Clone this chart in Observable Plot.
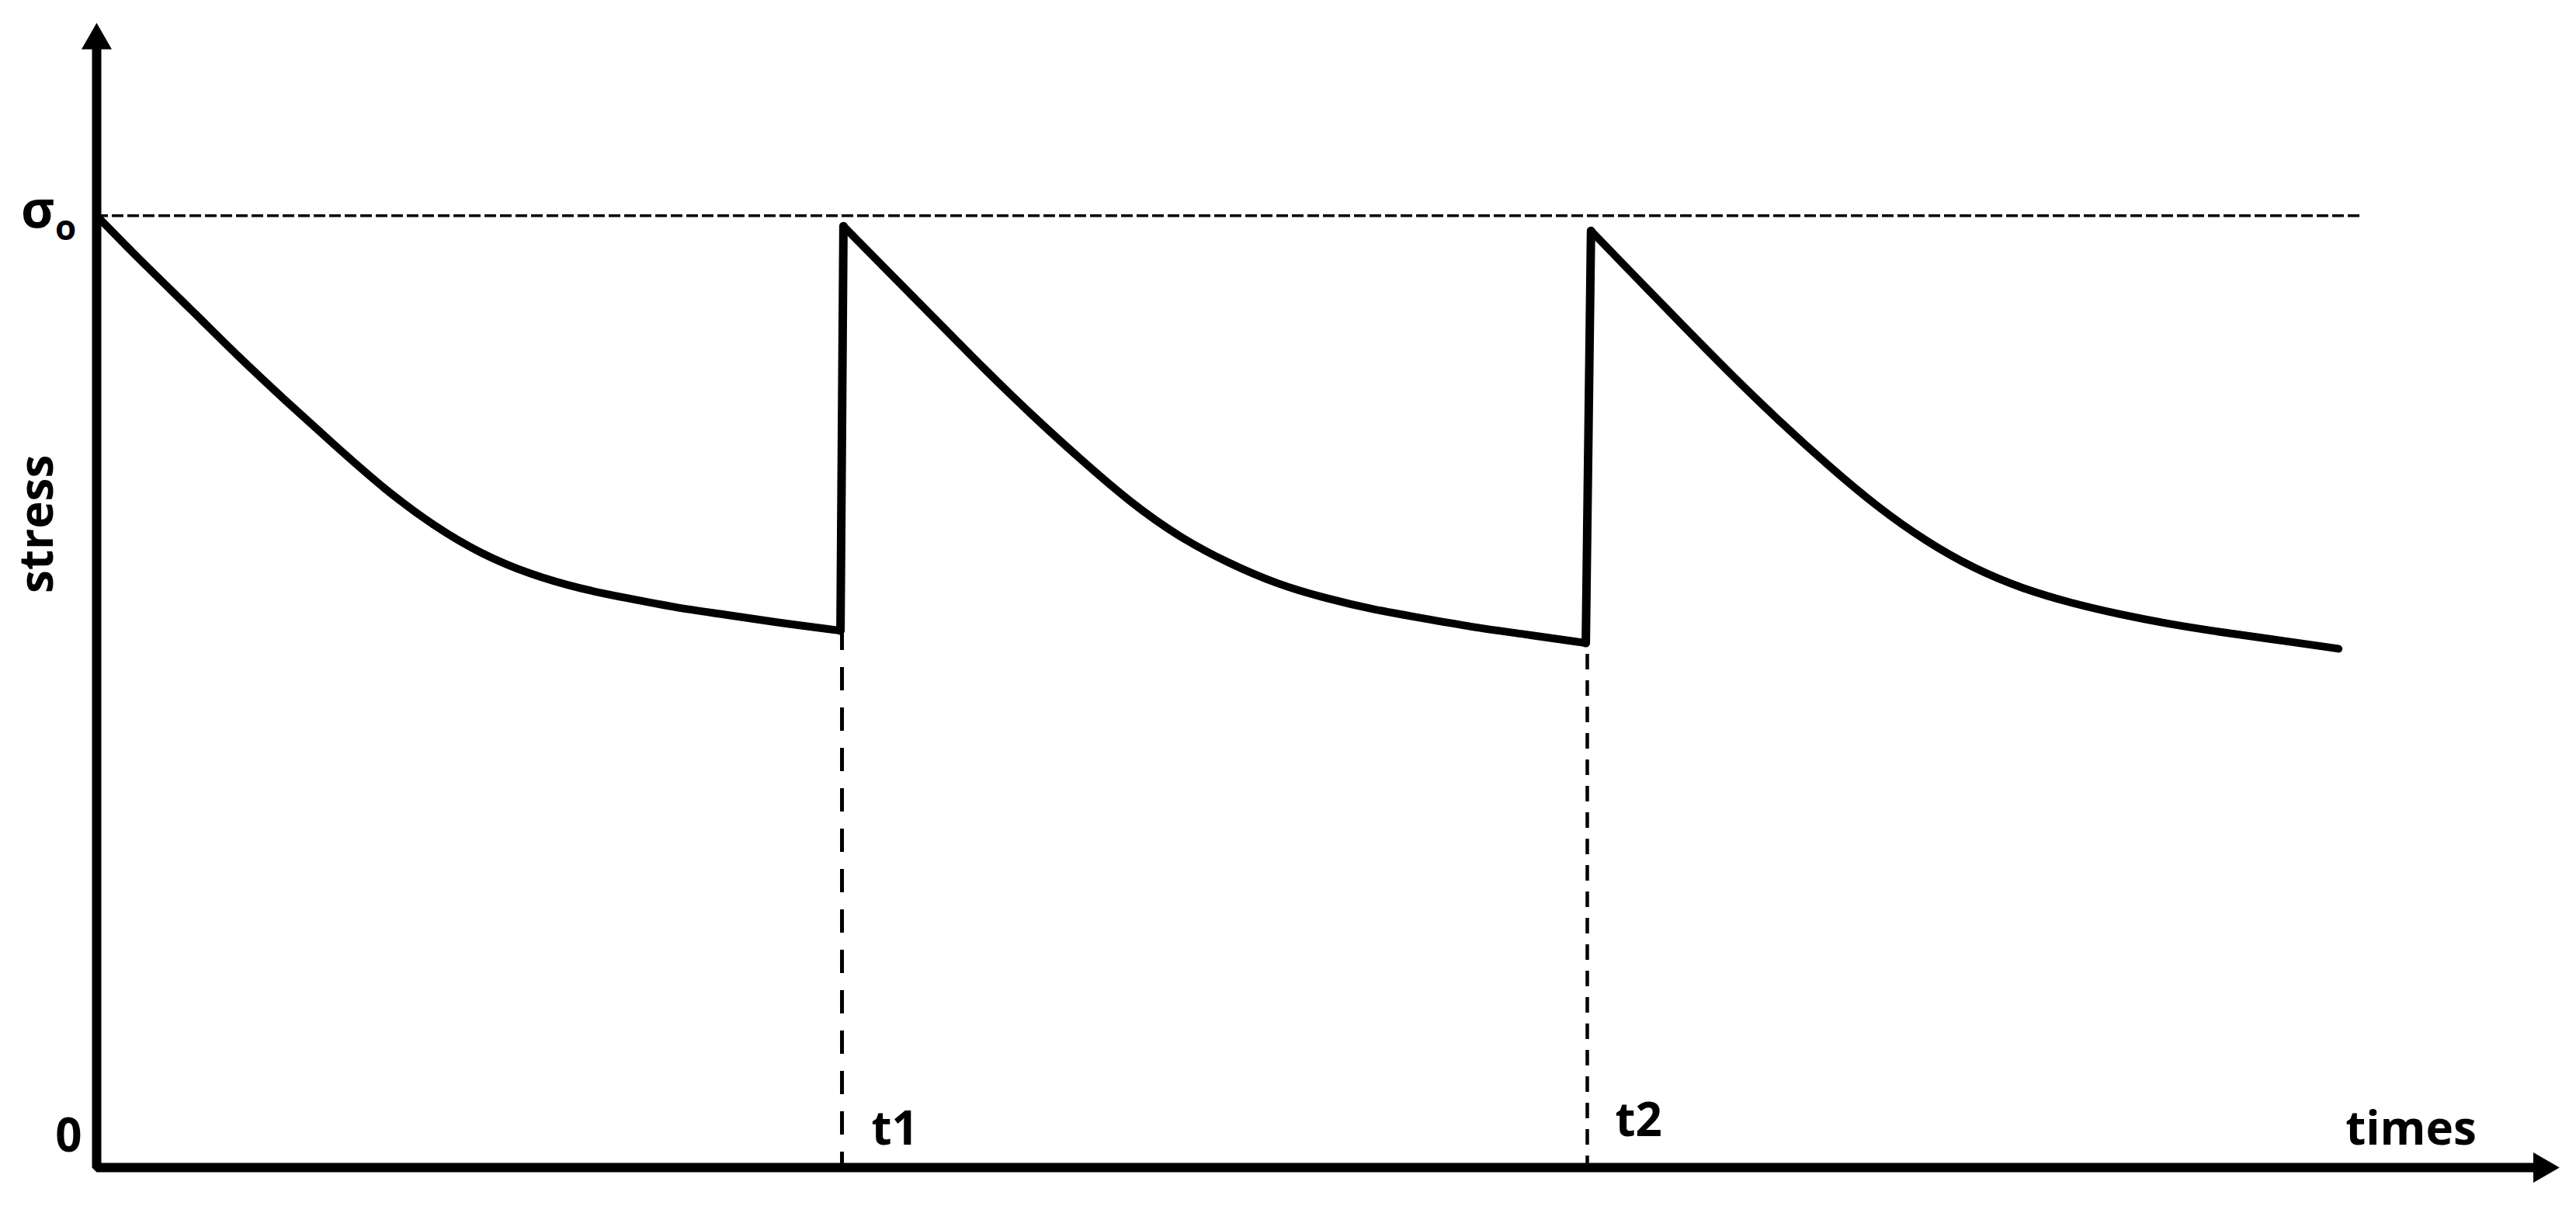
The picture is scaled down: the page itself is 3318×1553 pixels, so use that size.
<!DOCTYPE html>
<html>
<head>
<meta charset="utf-8">
<script src="https://cdn.jsdelivr.net/npm/d3@7"></script>
<script src="https://cdn.jsdelivr.net/npm/@observablehq/plot@0.6"></script>
<style>
html, body { margin: 0; padding: 0; background: #ffffff; }
#chart svg { display: block; }
</style>
</head>
<body>
<div id="chart"></div>
<script>
// ---- data (time in arbitrary units, stress relative to σo) ----
const time1   = [0, 0.61, 1.26, 1.91, 2.57, 3.22, 3.87, 4.52, 5.17, 5.82, 6.48, 7.13, 7.78, 8.43, 9.08, 9.98];
const stress1 = [1.0, 0.951, 0.902, 0.851, 0.803, 0.757, 0.712, 0.674, 0.644, 0.623, 0.608, 0.598, 0.588, 0.581, 0.573, 0.564];
const time2   = [10.02, 10.62, 11.27, 11.92, 12.58, 13.23, 13.88, 14.53, 15.18, 15.83, 16.49, 17.14, 17.79, 18.44, 19.09, 19.98];
const stress2 = [0.989, 0.941, 0.890, 0.838, 0.788, 0.742, 0.698, 0.662, 0.635, 0.613, 0.598, 0.586, 0.577, 0.568, 0.561, 0.551];
const time3   = [20.05, 20.63, 21.29, 21.93, 22.59, 23.24, 23.89, 24.54, 25.19, 25.84, 26.49, 27.15, 27.80, 28.45, 29.10, 30.08];
const stress3 = [0.984, 0.937, 0.884, 0.833, 0.783, 0.737, 0.694, 0.658, 0.629, 0.608, 0.593, 0.581, 0.571, 0.563, 0.556, 0.545];

const reloadTimes  = [10, 20];            // t1, t2
const reloadLabels = ["t1", "t2"];
const sigma0 = 1;                          // σo level
const sigma0End = 30.4;                    // end of the σo reference line
const yTickValues = [0, 1];
const yTickLabels = ["0", "σ"];
const sigmaSubscript = "o";
const xAxisTitle = "times";
const yAxisTitle = "stress";
const xAxisEnd = 32.81;                    // arrow head positions
const yAxisEnd = 1.184;

// ---- derived tables ----
const segments = [[time1, stress1], [time2, stress2], [time3, stress3]];
const curve = segments.flatMap(([ts, ss], i) => ts.map((t, j) => ({t, s: ss[j], seg: i})));
const jumps = [
  {t1: time1[time1.length - 1], s1: stress1[stress1.length - 1], t2: time2[0], s2: stress2[0]},
  {t1: time2[time2.length - 1], s1: stress2[stress2.length - 1], t2: time3[0], s2: stress3[0]}
];
const drops = reloadTimes.map((t, i) => ({t, top: segments[i][1][segments[i][1].length - 1], label: reloadLabels[i]}));
const axisPath = [{t: 0, s: yAxisEnd}, {t: 0, s: 0}, {t: xAxisEnd, s: 0}];
const yTicks = yTickValues.map((v, i) => ({v, label: yTickLabels[i]}));

const font = "'Open Sans', 'DejaVu Sans', sans-serif";

const chart = Plot.plot({
  width: 3318,
  height: 1553,
  marginLeft: 124,
  marginRight: 26,
  marginTop: 32,
  marginBottom: 50,
  x: {domain: [0, 33], axis: null},
  y: {domain: [0, 1.2], axis: null},
  style: {background: "#ffffff", fontFamily: font},
  marks: [
    // σo reference level
    Plot.ruleY([sigma0], {x1: 0, x2: sigma0End, stroke: "#000", strokeWidth: 3.5, strokeDasharray: "15,5"}),
    // vertical dashed drops at t1, t2
    Plot.ruleX([drops[0]], {x: "t", y1: 0, y2: "top", stroke: "#000", strokeWidth: 5, strokeDasharray: "30,22", strokeDashoffset: 10}),
    Plot.ruleX([drops[1]], {x: "t", y1: 0, y2: "top", stroke: "#000", strokeWidth: 4.5, strokeDasharray: "20,14", strokeDashoffset: 5}),
    // axes
    Plot.line(axisPath, {x: "t", y: "s", stroke: "#000", strokeWidth: 12, strokeLinejoin: "miter", strokeLinecap: "butt"}),
    Plot.dot([{t: 0, s: yAxisEnd}], {x: "t", y: "s", symbol: "triangle", r: 14.5, fill: "#000", stroke: "none"}),
    Plot.dot([{t: xAxisEnd, s: 0}], {x: "t", y: "s", symbol: "triangle", r: 14.5, rotate: 90, fill: "#000", stroke: "none"}),
    // stress relaxation curve
    Plot.line(curve, {x: "t", y: "s", z: "seg", curve: "basis", stroke: "#000", strokeWidth: 10, strokeLinejoin: "round", strokeLinecap: "round"}),
    Plot.link(jumps, {x1: "t1", y1: "s1", x2: "t2", y2: "s2", stroke: "#000", strokeWidth: 11, strokeLinecap: "round"}),
    // y tick labels
    Plot.text(yTicks.filter(d => d.v === 0), {x: 0, y: "v", text: "label", dx: -36, dy: -40, fontSize: 60, fontWeight: "bold", fill: "#000", textAnchor: "middle"}),
    Plot.text(yTicks.filter(d => d.v === 1), {x: 0, y: "v", text: "label", dx: -76, dy: -6, fontSize: 66, fontWeight: "bold", fill: "#000", textAnchor: "middle"}),
    Plot.text(yTicks.filter(d => d.v === 1), {x: 0, y: "v", text: () => sigmaSubscript, dx: -40, dy: 17, fontSize: 44, fontWeight: "bold", fill: "#000", textAnchor: "middle"}),
    // t1, t2 labels
    Plot.text([drops[0]], {x: "t", y: 0, text: "label", dx: 38, dy: -49, fontSize: 60, fontWeight: "bold", fill: "#000", textAnchor: "start"}),
    Plot.text([drops[1]], {x: "t", y: 0, text: "label", dx: 36, dy: -60, fontSize: 60, fontWeight: "bold", fill: "#000", textAnchor: "start"}),
    // axis titles
    Plot.text([xAxisTitle], {x: 33, y: 0, text: d => d, dx: -187, dy: -49, fontSize: 60, fontWeight: "bold", fill: "#000", textAnchor: "middle"}),
    Plot.text([yAxisTitle], {x: 0, y: 0.676, text: d => d, dx: -76, fontSize: 60, fontWeight: "bold", fill: "#000", textAnchor: "middle", rotate: -90})
  ]
});

document.getElementById("chart").appendChild(chart);
</script>
</body>
</html>
